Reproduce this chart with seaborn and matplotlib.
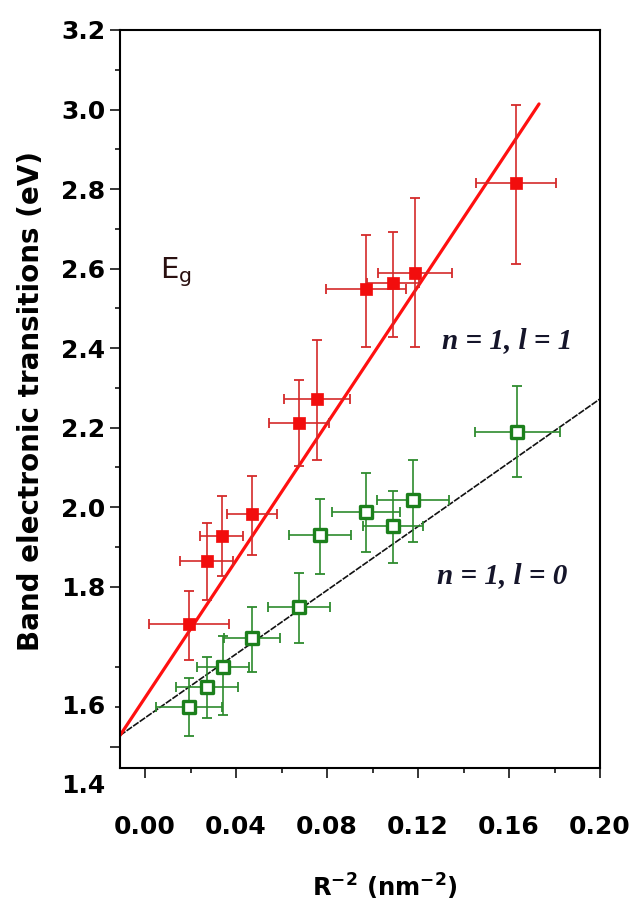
import numpy as np
import pandas as pd
import matplotlib
matplotlib.use("Agg")
import matplotlib.pyplot as plt
import seaborn as sns
from matplotlib.ticker import FixedLocator, FixedFormatter

# ---------------- data ----------------
red_x = [0.0195, 0.0271, 0.0337, 0.0469, 0.0678, 0.0756, 0.0970, 0.1091, 0.1187, 0.1631]
red_y = [1.753, 1.864, 1.928, 1.982, 2.212, 2.272, 2.548, 2.564, 2.589, 2.816]
red_xerr = [0.0176, 0.0117, 0.0095, 0.0110, 0.0132, 0.0144, 0.0176, 0.0114, 0.0163, 0.0176]
red_y_low = [1.709, 1.783, 1.826, 1.879, 2.103, 2.118, 2.403, 2.428, 2.403, 2.611]
red_y_high = [1.795, 1.960, 2.028, 2.079, 2.320, 2.420, 2.684, 2.693, 2.777, 3.011]

green_x = [0.0195, 0.0274, 0.0341, 0.0469, 0.0677, 0.0769, 0.0971, 0.1091, 0.1179, 0.1637]
green_y = [1.600, 1.649, 1.700, 1.736, 1.774, 1.930, 1.988, 1.952, 2.018, 2.189]
green_xerr = [0.0145, 0.0136, 0.0114, 0.0123, 0.0136, 0.0136, 0.0149, 0.0132, 0.0158, 0.0185]
green_y_low = [1.526, 1.572, 1.579, 1.688, 1.730, 1.831, 1.888, 1.858, 1.913, 2.075]
green_y_high = [1.672, 1.712, 1.739, 1.775, 1.834, 2.020, 2.086, 2.040, 2.118, 2.305]

red_fit_x = [-0.011, 0.1732]
red_fit_y = [1.528, 3.014]
green_fit_x = [-0.011, 0.20]
green_fit_y = [1.528, 2.272]

x_ticks = [0.00, 0.04, 0.08, 0.12, 0.16, 0.20]
x_tick_labels = ["0.00", "0.04", "0.08", "0.12", "0.16", "0.20"]
y_major = [1.5, 1.8, 2.0, 2.2, 2.4, 2.6, 2.8, 3.0, 3.2]
y_major_labels = ["", "1.8", "2.0", "2.2", "2.4", "2.6", "2.8", "3.0", "3.2"]
y_minor = [1.6, 1.7, 1.9, 2.1, 2.3, 2.5, 2.7, 2.9, 3.1]
y_extra_labels = ["1.6", "1.4"]
y_extra_pos = [1.6, 1.4]

label_low = "n = 1, l = 0"
label_high = "n = 1, l = 1"

# y axis of the reference is not uniform between 1.7 and 1.8
SCALE_V = np.array([0.0, 1.7, 1.8, 10.0])
SCALE_U = np.array([0.0, 1.7, 1.9025, 10.1025])


def fwd(v):
    return np.interp(v, SCALE_V, SCALE_U)


def inv(u):
    return np.interp(u, SCALE_U, SCALE_V)


# ---------------- style ----------------
sns.set_theme(style="ticks")
plt.rcParams["font.family"] = ["DejaVu Sans"]
plt.rcParams["mathtext.fontset"] = "dejavusans"

fig = plt.figure(figsize=(6.3, 9.09), dpi=100)
fig.patch.set_facecolor("white")
ax = fig.add_axes([120 / 630, 1 - 768 / 909, 480 / 630, 738 / 909])
ax.set_facecolor("white")
ax.set_yscale("function", functions=(fwd, inv))

red_df = pd.DataFrame({"x": red_x, "y": red_y})
green_df = pd.DataFrame({"x": green_x, "y": green_y})

RED_BAR = "#d42a2a"
RED_MK = "#f20d0d"
GREEN_BAR = "#2e8b2e"
GREEN_MK = "#1c801c"

# fit lines
sns.lineplot(x=green_fit_x, y=green_fit_y, ax=ax, color="#111111", lw=1.2,
             linestyle=(0, (4, 0.8)), zorder=2)
sns.lineplot(x=red_fit_x, y=red_fit_y, ax=ax, color="#ff1010", lw=2.3, zorder=2)

# error bars
ry = np.array(red_y)
ax.errorbar(red_x, red_y, xerr=red_xerr,
            yerr=[ry - np.array(red_y_low), np.array(red_y_high) - ry],
            fmt="none", ecolor=RED_BAR, elinewidth=1.2, capsize=3.8, capthick=1.3, zorder=3)
gy = np.array(green_y)
ax.errorbar(green_x, green_y, xerr=green_xerr,
            yerr=[gy - np.array(green_y_low), np.array(green_y_high) - gy],
            fmt="none", ecolor=GREEN_BAR, elinewidth=1.2, capsize=3.8, capthick=1.3, zorder=3)

# markers
sns.scatterplot(data=red_df, x="x", y="y", ax=ax, marker="s", s=85,
                color=RED_MK, edgecolor=RED_MK, linewidth=0.5, zorder=4)
sns.scatterplot(data=green_df, x="x", y="y", ax=ax, marker="s", s=75,
                facecolor="white", edgecolor=GREEN_MK, linewidth=2.4, zorder=4)

# axes
ax.set_xlim(-0.011, 0.20)
ax.set_ylim(1.446, 3.2)

ax.xaxis.set_major_locator(FixedLocator(x_ticks))
ax.xaxis.set_major_formatter(FixedFormatter(x_tick_labels))
ax.xaxis.set_minor_locator(FixedLocator([0.02, 0.06, 0.10, 0.14, 0.18]))
ax.yaxis.set_major_locator(FixedLocator(y_major))
ax.yaxis.set_major_formatter(FixedFormatter(y_major_labels))
ax.yaxis.set_minor_locator(FixedLocator(y_minor))
ax.yaxis.set_minor_formatter(FixedFormatter([""] * len(y_minor)))

for side in ["left", "right", "top", "bottom"]:
    ax.spines[side].set_visible(True)
    ax.spines[side].set_color("black")
    ax.spines[side].set_linewidth(1.5)

ax.tick_params(axis="both", which="major", direction="out", length=7, width=1.1,
               color="black", labelsize=18, labelcolor="black")
ax.tick_params(axis="both", which="minor", direction="out", length=3.5, width=1.1, color="black")
ax.tick_params(axis="x", which="major", pad=27)
ax.tick_params(axis="y", which="major", pad=3.5)
ax.tick_params(top=False, right=False, which="both")
for lab in ax.get_xticklabels() + ax.get_yticklabels():
    lab.set_fontweight("bold")

for txt, pos in zip(y_extra_labels, y_extra_pos):
    ax.text(-0.0313, pos, txt, transform=ax.get_yaxis_transform(), ha="right", va="center",
            fontsize=18, fontweight="bold", color="black", clip_on=False)

ax.set_ylabel("Band electronic transitions (eV)", fontsize=20, fontweight="bold", color="black")
ax.yaxis.set_label_coords(-0.156, 0.497)
ax.set_xlabel(r"R$^{\mathbf{-2}}$ (nm$^{\mathbf{-2}}$)", fontsize=17.5, fontweight="bold", color="black")
ax.xaxis.set_label_coords(0.552, -0.14)

ax.text(0.0066, 2.576, r"E$_{\mathregular{g}}$", fontsize=21, color="#2a1010",
        ha="left", va="baseline")
ax.text(0.1305, 2.400, label_high, fontsize=21, fontweight="bold", style="italic",
        family="Liberation Serif", color="#15152a", ha="left", va="baseline")
ax.text(0.1282, 1.809, label_low, fontsize=21, fontweight="bold", style="italic",
        family="Liberation Serif", color="#15152a", ha="left", va="baseline")

fig.savefig("out.png", dpi=100, facecolor="white")
